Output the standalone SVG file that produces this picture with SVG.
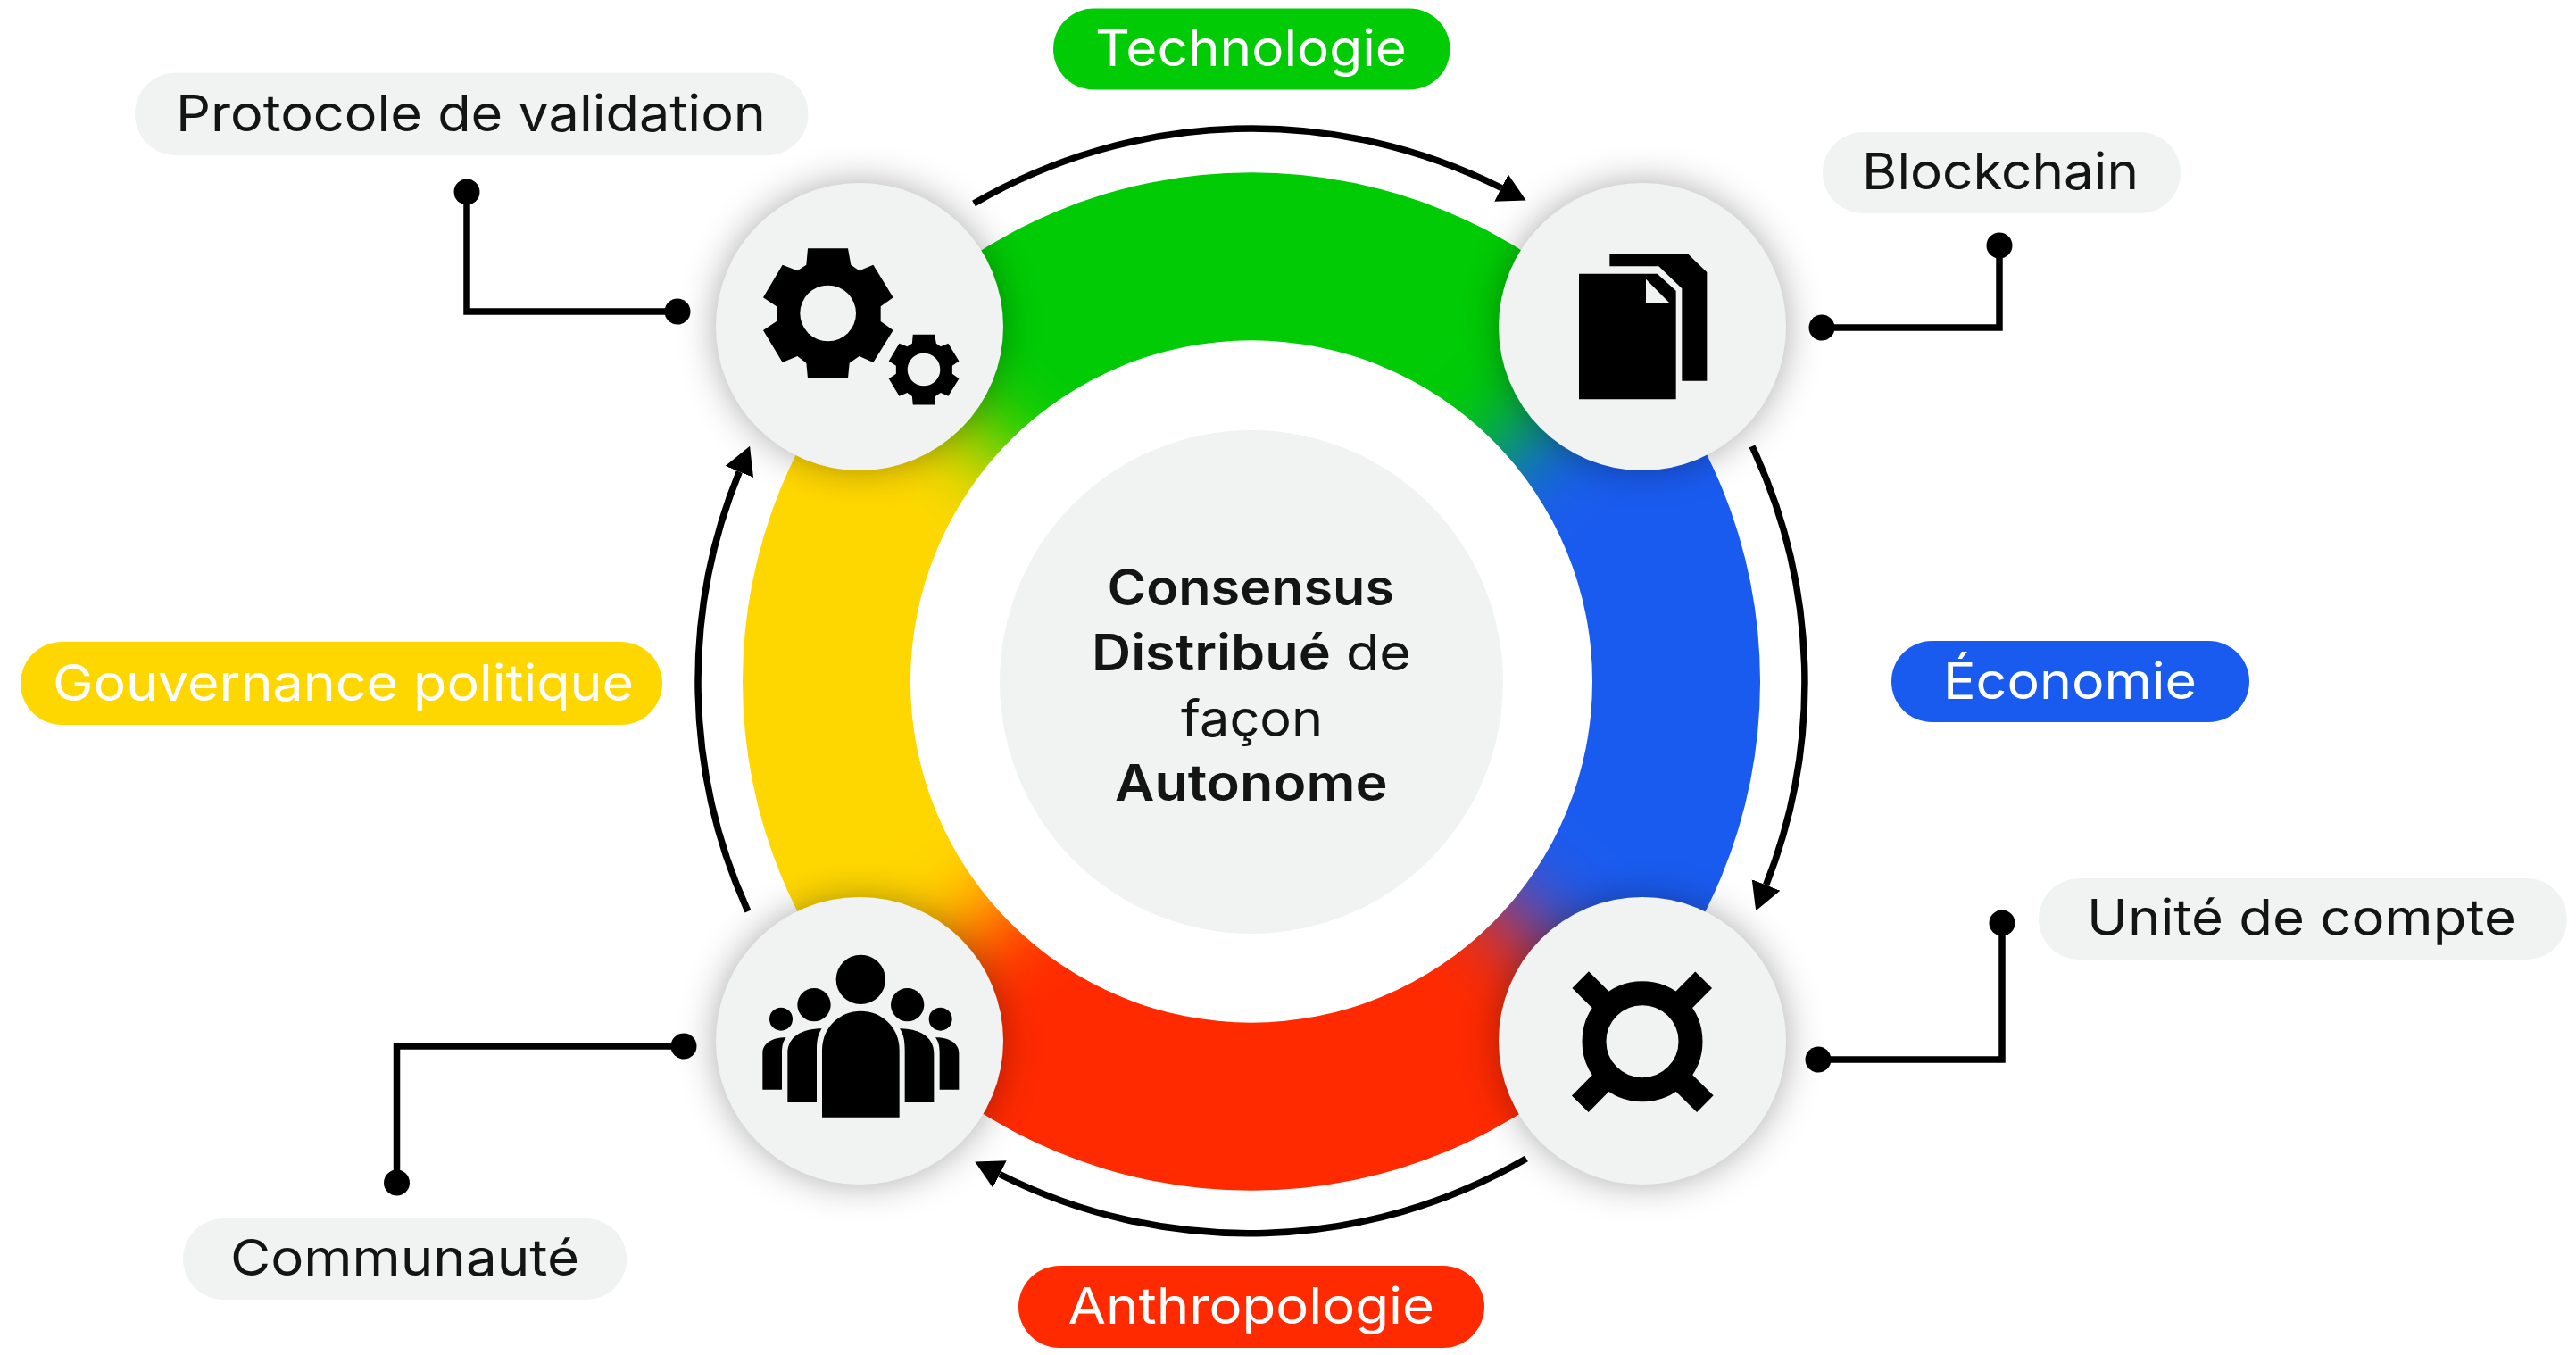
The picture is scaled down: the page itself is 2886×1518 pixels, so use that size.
<svg xmlns="http://www.w3.org/2000/svg" xmlns:xlink="http://www.w3.org/1999/xlink" width="2886" height="1518" viewBox="0 0 2886 1518">
<style>
.pill{fill:#f1f3f3}
.lbl{font-family:"Inter","Liberation Sans",sans-serif;font-size:56px;fill:#141414}
.wht{fill:#fff}
.ctr{font-family:"Inter","Liberation Sans",sans-serif;font-size:56px;fill:#141414}
.b{font-weight:600}
.arc{fill:none;stroke:#000;stroke-width:7.5;marker-end:url(#head)}
.elb{fill:none;stroke:#000;stroke-width:7.5;marker-start:url(#dot);marker-end:url(#dot)}
.node{fill:#f1f3f3;filter:url(#sh)}
</style>
<defs>
<marker id="head" markerUnits="userSpaceOnUse" markerWidth="32" markerHeight="36" refX="0" refY="18" orient="auto"><path d="M0,1 L31,18 L0,35Z" fill="#000"/></marker>
<marker id="dot" markerUnits="userSpaceOnUse" markerWidth="30" markerHeight="30" refX="15" refY="15"><circle cx="15" cy="15" r="14.5" fill="#000"/></marker>
<filter id="sh" x="-30%" y="-30%" width="160%" height="160%" color-interpolation-filters="sRGB"><feDropShadow dx="0" dy="0" stdDeviation="20" flood-color="#000" flood-opacity="0.33"/></filter>
<filter id="bl" filterUnits="userSpaceOnUse" x="700" y="60" width="1400" height="1400" color-interpolation-filters="sRGB"><feGaussianBlur stdDeviation="50"/></filter>
<clipPath id="ringclip"><path clip-rule="evenodd" d="M832,763.5a570,570 0 1 0 1140,0a570,570 0 1 0 -1140,0Z M1020,763.5a382,382 0 1 0 764,0a382,382 0 1 0 -764,0Z"/></clipPath>
<polygon id="gear" points="435,295 570,295 580,350 608,370 655,350 722,460 680,490 680,540 722,570 655,678 608,657 575,680 570,732 435,732 430,680 400,657 350,678 285,570 330,540 330,490 285,460 350,350 400,370 430,350"/>
</defs>
<rect width="2886" height="1518" fill="#fff"/>

<g id="ring" clip-path="url(#ringclip)">
<g filter="url(#bl)">
<polygon points="1402,763 85,-428 2719,-428" fill="#00cb05"/>
<polygon points="1402,763 2719,-428 2719,1954" fill="#1a5bef"/>
<polygon points="1402,763 2719,1954 85,1954" fill="#ff2a00"/>
<polygon points="1402,763 85,1954 85,-428" fill="#ffd700"/>
</g>
</g>

<g id="hub">
<circle cx="1402" cy="764" r="282" fill="#f1f3f3"/>
<text class="ctr b" x="1240.5" y="678" textLength="321.5" lengthAdjust="spacingAndGlyphs">Consensus</text>
<text class="ctr" x="1223" y="751" textLength="358" lengthAdjust="spacingAndGlyphs"><tspan class="b">Distribué</tspan> de</text>
<text class="ctr" x="1323" y="825" textLength="159" lengthAdjust="spacingAndGlyphs">façon</text>
<text class="ctr b" x="1249" y="897" textLength="305.5" lengthAdjust="spacingAndGlyphs">Autonome</text>
</g>

<g id="connectors">
<path class="arc" d="M1091,228 A620,620 0 0 1 1682,210.5"/>
<path class="arc" d="M1963,500 A620,620 0 0 1 1978.6,991.5"/>
<path class="arc" d="M1710,1298 A620,620 0 0 1 1120,1315.5"/>
<path class="arc" d="M838,1021 A620,620 0 0 1 828.3,528.5"/>
<path class="elb" d="M523,215 V349 H759"/>
<path class="elb" d="M2240,275 V367 H2041"/>
<path class="elb" d="M2243,1034 V1187 H2037"/>
<path class="elb" d="M766,1172 H444.5 V1325"/>
</g>

<g id="node-gears">
<circle class="node" cx="963" cy="366" r="161"/>
<g transform="translate(760,180) scale(0.33333)">
<use href="#gear" xlink:href="#gear"/>
<circle cx="503" cy="513" r="94" fill="#f1f3f3"/>
<use href="#gear" xlink:href="#gear" transform="translate(825,702) scale(0.54) translate(-503,-513)"/>
<circle cx="825" cy="702" r="55" fill="#f1f3f3"/>
</g>
</g>

<g id="node-docs">
<circle class="node" cx="1840" cy="366" r="161"/>
<g transform="translate(1640,180) scale(0.33333)">
<path d="M490,315 H755 L817,375 V740 H733 V430 L655,355 H490Z"/>
<path fill-rule="evenodd" d="M387,380 H650 L713,437 V802 H387Z M612,398 V477 H690Z"/>
</g>
</g>

<g id="node-money">
<circle class="node" cx="1840" cy="1166" r="161"/>
<g transform="translate(1640,980) scale(0.33333)">
<circle cx="600" cy="560" r="162" fill="none" stroke="#000" stroke-width="81"/>
<path d="M392,353 L490,450 M806,353 L710,450 M391,770 L490,670 M811,770 L710,670" stroke="#000" stroke-width="79" fill="none"/>
</g>
</g>

<g id="node-people">
<circle class="node" cx="963" cy="1166" r="161"/>
<g transform="translate(760,980) scale(0.33333)">
<circle cx="613" cy="352" r="83"/>
<path d="M483,815 V590 C483,510 545,458 613,458 C681,458 743,510 743,590 V815Z"/>
<circle cx="456" cy="437" r="56"/>
<circle cx="770" cy="437" r="56"/>
<path d="M367,765 V600 C367,545 415,517 482,517 C470,535 465,555 465,590 V765Z"/>
<path d="M859,765 V600 C859,545 811,517 744,517 C756,535 761,555 761,590 V765Z"/>
<circle cx="345" cy="485" r="39"/>
<circle cx="881" cy="485" r="39"/>
<path d="M283,722 V600 C283,570 310,547 362,547 C352,560 348,575 348,600 V722Z"/>
<path d="M943,722 V600 C943,570 916,547 864,547 C874,560 878,575 878,600 V722Z"/>
</g>
</g>

<g id="label-technologie"><rect x="1180" y="9.5" width="444.5" height="91" rx="45.5" fill="#00cb05"/><text class="lbl wht" x="1227" y="74" textLength="349" lengthAdjust="spacingAndGlyphs">Technologie</text></g>
<g id="label-economie"><rect x="2119" y="718" width="401" height="91" rx="45.5" fill="#1a5bef"/><text class="lbl wht" x="2177" y="783" textLength="284" lengthAdjust="spacingAndGlyphs">Économie</text></g>
<g id="label-anthropologie"><rect x="1141" y="1418" width="522" height="92" rx="46" fill="#ff2a00"/><text class="lbl wht" x="1196.5" y="1483" textLength="410.5" lengthAdjust="spacingAndGlyphs">Anthropologie</text></g>
<g id="label-gouvernance"><rect x="23" y="719" width="719" height="93" rx="46.5" fill="#ffd700"/><text class="lbl wht" x="59" y="785" textLength="651" lengthAdjust="spacingAndGlyphs">Gouvernance politique</text></g>
<g id="label-protocole"><rect class="pill" x="151" y="81.5" width="754.5" height="92.5" rx="46"/><text class="lbl" x="197" y="146.5" textLength="661" lengthAdjust="spacingAndGlyphs">Protocole de validation</text></g>
<g id="label-blockchain"><rect class="pill" x="2042" y="148" width="401" height="91" rx="45.5"/><text class="lbl" x="2086" y="212" textLength="310" lengthAdjust="spacingAndGlyphs">Blockchain</text></g>
<g id="label-unite"><rect class="pill" x="2284" y="984" width="592" height="91" rx="45.5"/><text class="lbl" x="2338" y="1048" textLength="481" lengthAdjust="spacingAndGlyphs">Unité de compte</text></g>
<g id="label-communaute"><rect class="pill" x="205" y="1365" width="497" height="91" rx="45.5"/><text class="lbl" x="258" y="1429" textLength="391" lengthAdjust="spacingAndGlyphs">Communauté</text></g>
</svg>
